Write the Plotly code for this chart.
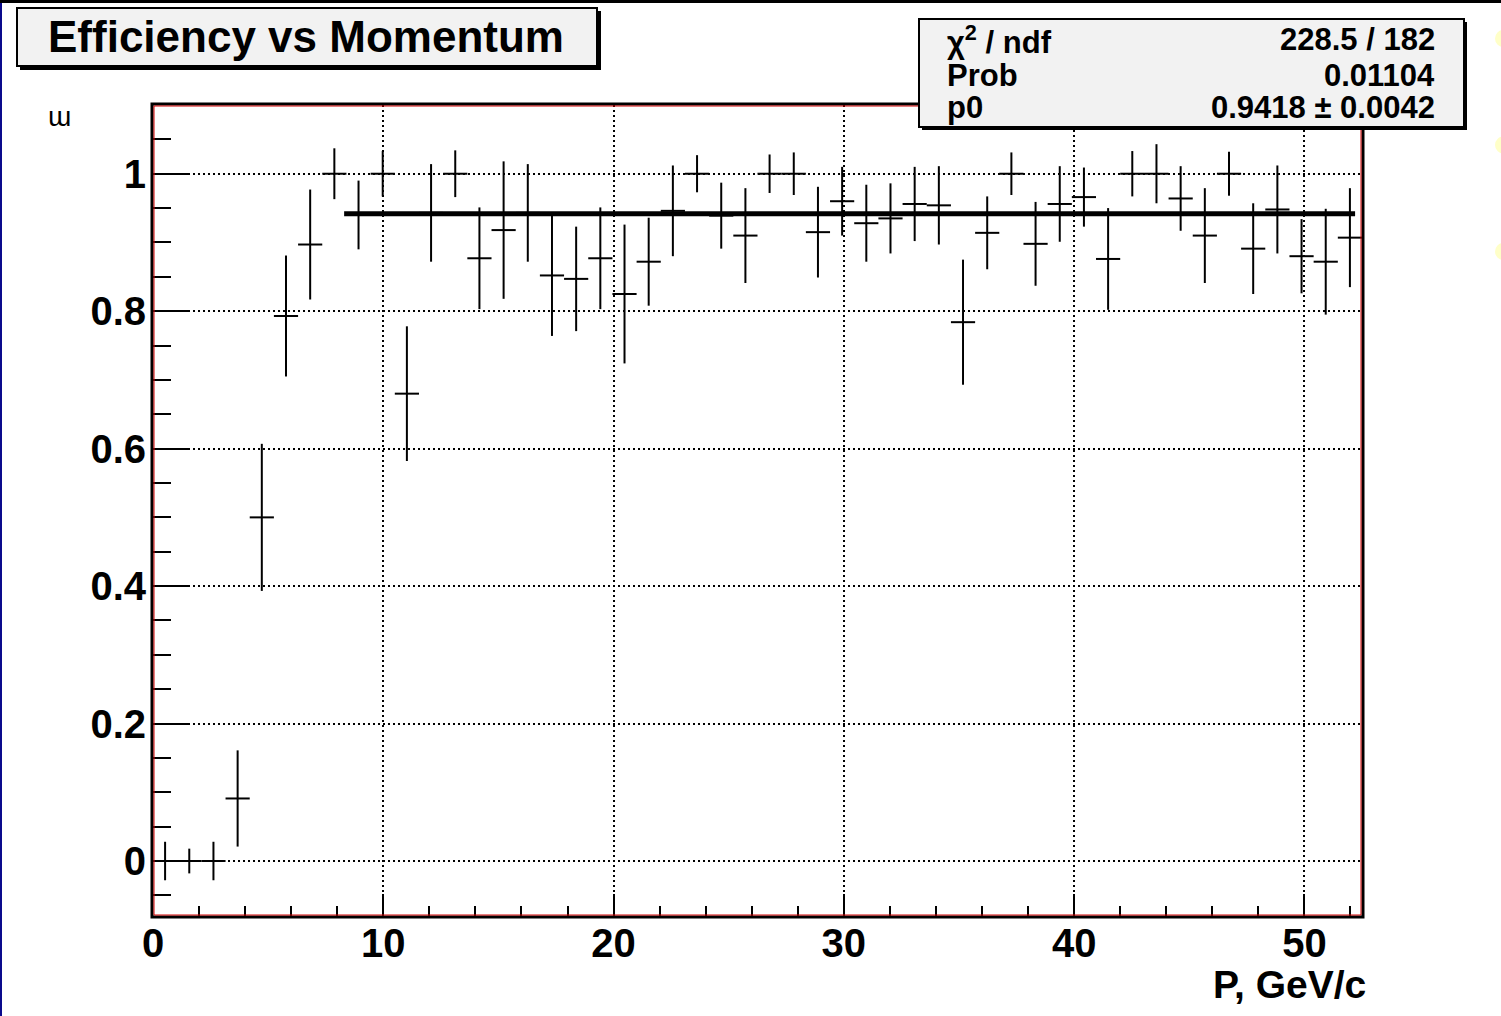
import plotly.graph_objects as go

# ---------------- data ----------------
p_centers = [0.525, 1.575, 2.625, 3.675, 4.725, 5.775, 6.825, 7.875, 8.925, 9.975,
             11.025, 12.075, 13.125, 14.175, 15.225, 16.275, 17.325, 18.375, 19.425, 20.475,
             21.525, 22.575, 23.625, 24.675, 25.725, 26.775, 27.825, 28.875, 29.925, 30.975,
             32.025, 33.075, 34.125, 35.175, 36.225, 37.275, 38.325, 39.375, 40.425, 41.475,
             42.525, 43.575, 44.625, 45.675, 46.725, 47.775, 48.825, 49.875, 50.925, 51.975]
bin_halfwidth = 0.525

efficiency = [0.0, 0.0, 0.0, 0.091, 0.500, 0.793, 0.897, 1.0, 0.940, 1.0,
              0.680, 0.943, 1.0, 0.877, 0.918, 0.943, 0.852, 0.847, 0.877, 0.825,
              0.872, 0.946, 1.0, 0.939, 0.910, 1.0, 1.0, 0.915, 0.960, 0.928,
              0.935, 0.956, 0.954, 0.784, 0.914, 1.0, 0.898, 0.956, 0.966, 0.876,
              1.0, 1.0, 0.964, 0.910, 1.0, 0.891, 0.948, 0.880, 0.872, 0.907]

eff_error = [0.028, 0.018, 0.028, 0.070, 0.107, 0.088, 0.080, 0.037, 0.050, 0.033,
             0.098, 0.071, 0.034, 0.074, 0.100, 0.071, 0.088, 0.076, 0.074, 0.101,
             0.064, 0.066, 0.027, 0.048, 0.069, 0.028, 0.031, 0.066, 0.050, 0.056,
             0.051, 0.054, 0.057, 0.091, 0.053, 0.031, 0.061, 0.055, 0.043, 0.074,
             0.033, 0.043, 0.047, 0.069, 0.032, 0.066, 0.064, 0.054, 0.077, 0.072]

fit_p0 = 0.9418
fit_range = [8.3, 52.2]

title_text = "Efficiency vs Momentum"
x_title = "P, GeV/c"
y_title = "ɯ"
stats_labels = ["χ<sup>2</sup> / ndf", "Prob", "p0"]
stats_values = ["228.5 / 182", "0.01104", "0.9418 ± 0.0042"]

x_range = [0, 52.5]
y_range = [-0.08, 1.1]

# ---------------- layout geometry (pixels) ----------------
W, H = 1501, 1016
L, R, T, B = 153, 1362, 105, 916
PW, PH = R - L, B - T


def px(x):
    return (x - L) / PW


def py(y):
    return (B - y) / PH


FONT = "Liberation Sans"

fig = go.Figure()

fig.add_trace(go.Scatter(
    x=p_centers, y=efficiency, mode="markers",
    marker=dict(size=1, color="rgba(0,0,0,0)"),
    error_y=dict(type="data", array=eff_error, symmetric=True, color="black", thickness=2, width=0),
    error_x=dict(type="constant", value=bin_halfwidth, color="black", thickness=2, width=0),
    showlegend=False, hoverinfo="x+y",
))

fig.add_trace(go.Scatter(
    x=fit_range, y=[fit_p0, fit_p0], mode="lines",
    line=dict(color="black", width=5), showlegend=False,
))

shapes = []
# top black band and left blue band
shapes.append(dict(type="rect", xref="paper", yref="paper", x0=px(0), x1=px(W), y0=py(0), y1=py(3),
                   fillcolor="black", line=dict(width=0), layer="above"))
shapes.append(dict(type="rect", xref="paper", yref="paper", x0=px(0), x1=px(2), y0=py(3), y1=py(H),
                   fillcolor="#0a0a8c", line=dict(width=0), layer="above"))
# yellow circles at right edge
for cy in [38.5, 145, 251.5]:
    shapes.append(dict(type="circle", xref="paper", yref="paper", x0=px(1495), x1=px(1512),
                       y0=py(cy - 8.5), y1=py(cy + 8.5), fillcolor="#ffffc8", line=dict(width=0),
                       layer="above"))
# frame: black outer, red inner
shapes.append(dict(type="rect", xref="paper", yref="paper", x0=px(L - 1), x1=px(R + 1), y0=py(B + 1), y1=py(T - 1),
                   line=dict(color="black", width=3), layer="above"))
shapes.append(dict(type="rect", xref="paper", yref="paper", x0=px(L + 1), x1=px(R - 1), y0=py(B - 1), y1=py(T + 1),
                   line=dict(color="#d00000", width=1), layer="above"))
# title box with shadow
shapes.append(dict(type="rect", xref="paper", yref="paper", x0=px(20), x1=px(601), y0=py(70), y1=py(11),
                   fillcolor="black", line=dict(width=0), layer="above"))
shapes.append(dict(type="rect", xref="paper", yref="paper", x0=px(17), x1=px(597), y0=py(66), y1=py(8),
                   fillcolor="#f2f2f2", line=dict(color="black", width=2), layer="above"))
# stats box with shadow
shapes.append(dict(type="rect", xref="paper", yref="paper", x0=px(922), x1=px(1467), y0=py(130), y1=py(22),
                   fillcolor="black", line=dict(width=0), layer="above"))
shapes.append(dict(type="rect", xref="paper", yref="paper", x0=px(919), x1=px(1464), y0=py(127), y1=py(19),
                   fillcolor="#f2f2f2", line=dict(color="black", width=2), layer="above"))

annotations = []
annotations.append(dict(xref="paper", yref="paper", x=px(306), y=py(37), text="<b>%s</b>" % title_text,
                        showarrow=False, xanchor="center", yanchor="middle",
                        font=dict(family=FONT, size=44, color="black")))
row_y = [40, 75, 107]
for lab, val, ry in zip(stats_labels, stats_values, row_y):
    annotations.append(dict(xref="paper", yref="paper", x=px(945), y=py(ry), text="<b>%s</b>" % lab,
                            showarrow=False, xanchor="left", yanchor="middle",
                            font=dict(family=FONT, size=31, color="black")))
    annotations.append(dict(xref="paper", yref="paper", x=px(1437), y=py(ry), text="<b>%s</b>" % val,
                            showarrow=False, xanchor="right", yanchor="middle",
                            font=dict(family=FONT, size=31, color="black")))
annotations.append(dict(xref="paper", yref="paper", x=px(1368), y=py(984), text="<b>%s</b>" % x_title,
                        showarrow=False, xanchor="right", yanchor="middle",
                        font=dict(family=FONT, size=39, color="black")))
annotations.append(dict(xref="paper", yref="paper", x=px(59), y=py(117), text=y_title,
                        showarrow=False, xanchor="center", yanchor="middle",
                        font=dict(family=FONT, size=28, color="black")))

fig.update_layout(
    width=W, height=H,
    margin=dict(l=L, r=W - R, t=T, b=H - B, pad=0),
    paper_bgcolor="white", plot_bgcolor="white",
    shapes=shapes, annotations=annotations,
    showlegend=False,
)

fig.update_xaxes(
    range=x_range, tick0=0, dtick=10, ticks="inside", ticklen=22, tickwidth=2, tickcolor="black",
    showgrid=True, gridcolor="black", gridwidth=2, griddash="2px,3px",
    zeroline=False, showline=False, ticklabelstandoff=0,
    tickfont=dict(family=FONT, size=40, color="black", weight="bold"),
    minor=dict(ticks="inside", dtick=2, tick0=0, ticklen=10, tickwidth=2, tickcolor="black", showgrid=False),
)
fig.update_yaxes(
    range=y_range, tick0=0, dtick=0.2, ticks="inside", ticklen=35, tickwidth=2, tickcolor="black",
    showgrid=True, gridcolor="black", gridwidth=2, griddash="2px,3px",
    zeroline=False, showline=False, ticklabelstandoff=6,
    tickfont=dict(family=FONT, size=40, color="black", weight="bold"),
    minor=dict(ticks="inside", dtick=0.05, tick0=0, ticklen=18, tickwidth=2, tickcolor="black", showgrid=False),
)

fig.write_html("out.html")
